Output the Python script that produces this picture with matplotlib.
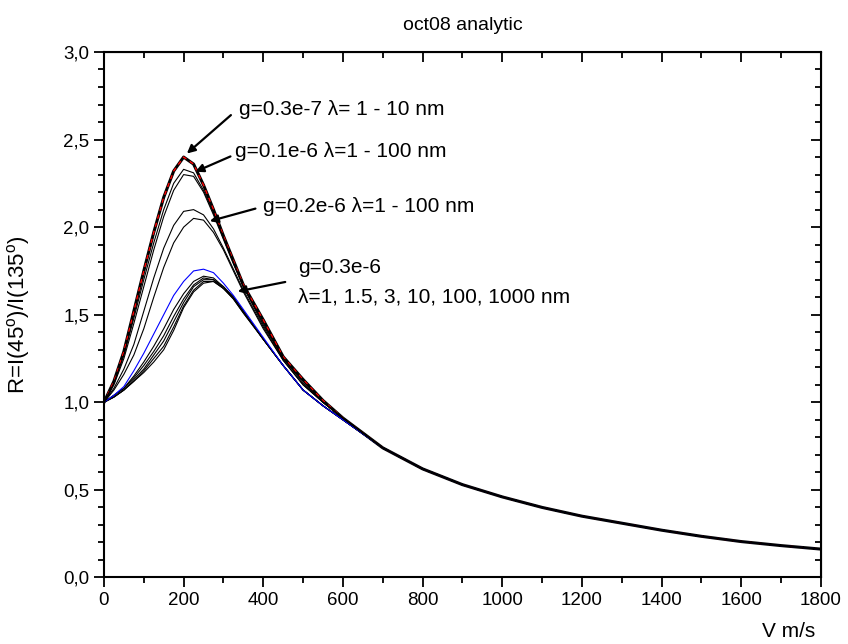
import numpy as np
import matplotlib
matplotlib.use("Agg")
import matplotlib.pyplot as plt
from matplotlib.ticker import MultipleLocator, FuncFormatter

plt.rcParams['font.family'] = ['Liberation Sans', 'DejaVu Sans']
plt.rcParams['mathtext.fontset'] = 'custom'
plt.rcParams['mathtext.rm'] = 'Liberation Sans'

# velocidades (m/s)
V_peak = [0, 25, 50, 75, 100, 125, 150, 175, 200, 225, 250, 275, 300, 325, 350, 400, 450, 500, 550, 600]
V_tail = [700, 800, 900, 1000, 1100, 1200, 1300, 1400, 1500, 1600, 1700, 1800]
R_tail = [0.74, 0.62, 0.53, 0.46, 0.40, 0.35, 0.31, 0.27, 0.235, 0.205, 0.182, 0.162]

# g=0.3e-7, lambda 1 - 10 nm
R_g03e7 = [1.00, 1.12, 1.29, 1.52, 1.75, 1.97, 2.17, 2.32, 2.40, 2.36, 2.24, 2.10, 1.95, 1.81, 1.67, 1.47, 1.26, 1.13, 1.01, 0.91]
# g=0.1e-6
R_g01a = [1.00, 1.11, 1.27, 1.48, 1.70, 1.91, 2.10, 2.25, 2.33, 2.31, 2.21, 2.08, 1.94, 1.80, 1.66, 1.45, 1.25, 1.12, 1.00, 0.91]
R_g01b = [1.00, 1.10, 1.25, 1.45, 1.66, 1.87, 2.06, 2.21, 2.30, 2.29, 2.20, 2.07, 1.93, 1.79, 1.66, 1.44, 1.25, 1.11, 1.00, 0.91]
# g=0.2e-6
R_g02a = [1.00, 1.08, 1.19, 1.33, 1.52, 1.71, 1.88, 2.01, 2.09, 2.10, 2.07, 1.99, 1.88, 1.76, 1.64, 1.43, 1.24, 1.10, 1.00, 0.91]
R_g02b = [1.00, 1.07, 1.16, 1.27, 1.42, 1.60, 1.77, 1.91, 2.00, 2.05, 2.04, 1.97, 1.87, 1.75, 1.63, 1.42, 1.24, 1.10, 1.00, 0.91]
# g=0.3e-6, lambda = 1 (azul) y 1.5, 3, 10, 100, 1000
R_g03_l1 = [1.00, 1.04, 1.09, 1.18, 1.28, 1.39, 1.50, 1.61, 1.69, 1.75, 1.76, 1.74, 1.68, 1.61, 1.53, 1.37, 1.21, 1.07, 0.98, 0.90]
R_g03_l15 = [1.00, 1.04, 1.08, 1.15, 1.23, 1.32, 1.42, 1.53, 1.62, 1.69, 1.72, 1.71, 1.66, 1.60, 1.52, 1.36, 1.21, 1.07, 0.98, 0.90]
R_g03_l3 = [1.00, 1.04, 1.08, 1.14, 1.21, 1.29, 1.38, 1.49, 1.59, 1.67, 1.71, 1.70, 1.66, 1.60, 1.52, 1.36, 1.21, 1.07, 0.98, 0.90]
R_g03_l10 = [1.00, 1.03, 1.07, 1.13, 1.19, 1.27, 1.35, 1.46, 1.57, 1.66, 1.70, 1.70, 1.65, 1.60, 1.52, 1.36, 1.21, 1.07, 0.98, 0.90]
R_g03_l100 = [1.00, 1.03, 1.07, 1.12, 1.18, 1.25, 1.32, 1.43, 1.55, 1.64, 1.69, 1.69, 1.65, 1.59, 1.51, 1.36, 1.21, 1.07, 0.98, 0.90]
R_g03_l1000 = [1.00, 1.03, 1.07, 1.12, 1.17, 1.23, 1.30, 1.41, 1.54, 1.63, 1.68, 1.69, 1.65, 1.59, 1.51, 1.36, 1.21, 1.07, 0.98, 0.90]

V = np.array(V_peak + V_tail)

fig = plt.figure(figsize=(8.48, 6.44), dpi=100)
ax = fig.add_axes([0.1226, 0.1033, 0.8454, 0.816])

# g=0.3e-7 (gruesa + roja a trazos), abajo de las demas
ax.plot(V, R_g03e7 + R_tail, color='black', lw=2.2)
ax.plot(V, R_g03e7 + R_tail, color='red', lw=1.0, ls=(0, (3, 3)))
# familia g=0.3e-6
for R in [R_g03_l15, R_g03_l3, R_g03_l10, R_g03_l100, R_g03_l1000]:
    ax.plot(V, R + R_tail, color='black', lw=0.8)
ax.plot(V, R_g03_l1 + R_tail, color='blue', lw=0.8)
# g=0.2e-6 y g=0.1e-6
for R in [R_g02a, R_g02b, R_g01a, R_g01b]:
    ax.plot(V, R + R_tail, color='black', lw=0.8)

# anotaciones
fs_txt = 15
arr = dict(arrowstyle='-|>', color='black', lw=1.6, mutation_scale=12)
ax.annotate('', xy=(203, 2.41), xytext=(324, 2.65), arrowprops=arr)
ax.text(339, 2.67, 'g=0.3e-7 λ= 1 - 10 nm', fontsize=fs_txt, va='center')
ax.annotate('', xy=(223, 2.31), xytext=(324, 2.41), arrowprops=arr)
ax.text(329, 2.43, 'g=0.1e-6 λ=1 - 100 nm', fontsize=fs_txt, va='center')
ax.annotate('', xy=(259, 2.03), xytext=(387, 2.11), arrowprops=arr)
ax.text(399, 2.12, 'g=0.2e-6 λ=1 - 100 nm', fontsize=fs_txt, va='center')
ax.annotate('', xy=(329, 1.63), xytext=(462, 1.69), arrowprops=arr)
ax.text(487, 1.77, 'g=0.3e-6', fontsize=fs_txt, va='center')
ax.text(487, 1.60, 'λ=1, 1.5, 3, 10, 100, 1000 nm', fontsize=fs_txt, va='center')

# ejes
ax.set_xlim(0, 1800)
ax.set_ylim(0, 3.0)
ax.xaxis.set_major_locator(MultipleLocator(200))
ax.xaxis.set_minor_locator(MultipleLocator(100))
ax.yaxis.set_major_locator(MultipleLocator(0.5))
ax.yaxis.set_minor_locator(MultipleLocator(0.1))
ax.yaxis.set_major_formatter(FuncFormatter(lambda v, p: f"{v:.1f}".replace('.', ',')))
ax.tick_params(which='both', direction='out', top=False, right=False, width=1.3)
ax.tick_params(which='major', length=7, labelsize=13.5)
ax.tick_params(which='minor', length=4)
for sp in ax.spines.values():
    sp.set_linewidth(1.5)

# ticks hacia adentro arriba y a la derecha
ax2 = ax.secondary_xaxis('top')
ax2.xaxis.set_major_locator(MultipleLocator(200))
ax2.xaxis.set_minor_locator(MultipleLocator(100))
ax2.tick_params(which='both', direction='in', labeltop=False, width=1.3)
ax2.tick_params(which='major', length=7)
ax2.tick_params(which='minor', length=4)
ax3 = ax.secondary_yaxis('right')
ax3.yaxis.set_major_locator(MultipleLocator(0.5))
ax3.yaxis.set_minor_locator(MultipleLocator(0.1))
ax3.tick_params(which='both', direction='in', labelright=False, width=1.3)
ax3.tick_params(which='major', length=7)
ax3.tick_params(which='minor', length=4)

ax.set_title('oct08 analytic', fontsize=14, pad=16)
ax.set_ylabel(r'R=I(45$^{\rm o}$)/I(135$^{\rm o}$)', fontsize=16)
ax.yaxis.set_label_coords(-0.1, 0.5)
ax.set_xlabel('V m/s', fontsize=15)
ax.xaxis.set_label_coords(0.955, -0.085)

fig.savefig('out.png', dpi=100)
